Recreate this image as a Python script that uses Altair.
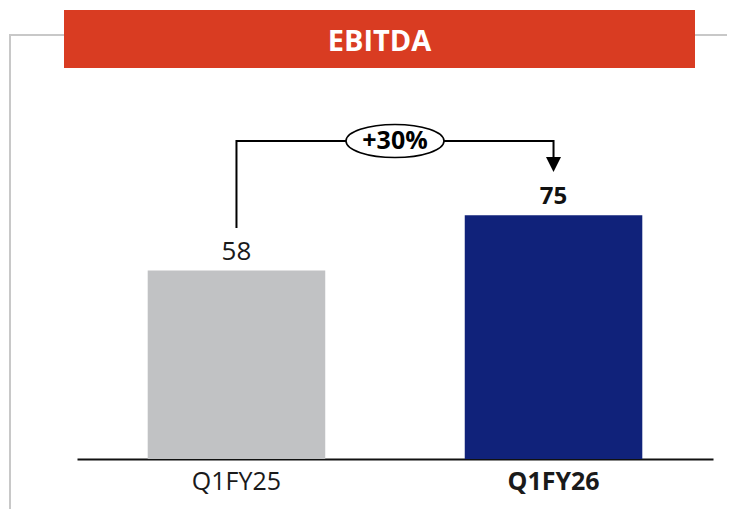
import altair as alt
import pandas as pd

# ---- data ----
categories = ["Q1FY25", "Q1FY26"]
values = [58, 75]
bar_colors = ["#C1C2C4", "#10227A"]
label_weights = ["normal", "bold"]
growth_label = "+30%"
title_text = "EBITDA"

# annotation levels (data units)
bracket_top = 97.85
bracket_left_bottom = 71.1
bracket_right_bottom = 92.9
arrow_level = 90.6

FONT = "Open Sans"

df = pd.DataFrame({"cat": categories, "value": values, "weight": label_weights})

xscale = alt.Scale(domain=categories, paddingInner=0.44, paddingOuter=0.223)
yscale = alt.Scale(domain=[0, 138.15], nice=False, zero=True)

bold_test = f"datum.value == '{categories[1]}'"

x_enc = alt.X(
    "cat:N",
    scale=xscale,
    sort=categories,
    axis=alt.Axis(
        title=None,
        labelFont=FONT,
        labelFontSize=25,
        labelColor="#1a1a1a",
        labelFontWeight={"condition": {"test": bold_test, "value": "bold"}, "value": "normal"},
        labelAngle=0,
        ticks=False,
        domainColor="#111111",
        domainWidth=2,
        labelPadding=10,
        grid=False,
    ),
)

bars = alt.Chart(df).mark_bar().encode(
    x=x_enc,
    y=alt.Y("value:Q", scale=yscale, axis=None),
    color=alt.Color("cat:N", scale=alt.Scale(domain=categories, range=bar_colors), legend=None),
)

lab_normal = alt.Chart(df).transform_filter("datum.weight == 'normal'").mark_text(
    font=FONT, fontSize=26, dy=-10, baseline="alphabetic", color="#1a1a1a"
).encode(
    x=alt.X("cat:N", scale=xscale),
    y=alt.Y("value:Q", scale=yscale),
    text="value:Q",
)
lab_bold = alt.Chart(df).transform_filter("datum.weight == 'bold'").mark_text(
    font=FONT, fontSize=24, fontWeight="bold", dy=-11, baseline="alphabetic", color="#111111"
).encode(
    x=alt.X("cat:N", scale=xscale),
    y=alt.Y("value:Q", scale=yscale),
    text="value:Q",
)

# bracket path
bracket_df = pd.DataFrame({
    "cat": [categories[0], categories[0], categories[1], categories[1]],
    "y": [bracket_left_bottom, bracket_top, bracket_top, bracket_right_bottom],
    "o": [0, 1, 2, 3],
})
bracket = alt.Chart(bracket_df).mark_line(color="black", strokeWidth=2, strokeCap="butt").encode(
    x=alt.X("cat:N", scale=xscale),
    y=alt.Y("y:Q", scale=yscale),
    order="o:Q",
)

arrow_df = pd.DataFrame({"cat": [categories[1]], "y": [arrow_level]})
arrow = alt.Chart(arrow_df).mark_point(
    shape="M -1,-1 L 1,-1 L 0,1 Z", size=225, filled=True, color="black", opacity=1
).encode(
    x=alt.X("cat:N", scale=xscale),
    y=alt.Y("y:Q", scale=yscale),
)

growth_df = pd.DataFrame({"label": [growth_label], "y": [bracket_top]})
ellipse = alt.Chart(growth_df).mark_point(
    shape="M -1,0 A 1,0.337 0 1,1 1,0 A 1,0.337 0 1,1 -1,0 Z",
    size=98 * 98,
    filled=True,
    fill="white",
    stroke="black",
    strokeWidth=1.6,
    opacity=1,
    fillOpacity=1,
).encode(x=alt.value(318), y=alt.Y("y:Q", scale=yscale))
growth_text = alt.Chart(growth_df).mark_text(
    font=FONT, fontSize=25, fontWeight="bold", baseline="middle", color="black"
).encode(x=alt.value(318), y=alt.Y("y:Q", scale=yscale), text="label:N")

# header banner
title_df = pd.DataFrame({"t": [title_text]})
banner = alt.Chart(title_df).mark_rect(color="#D93C22").encode(
    x=alt.value(-13), x2=alt.value(618), y=alt.value(0), y2=alt.value(58)
)
banner_text = alt.Chart(title_df).mark_text(
    font=FONT, fontSize=29, fontWeight="bold", color="white", baseline="alphabetic"
).encode(x=alt.value(302.5), y=alt.value(41), text="t:N")

# light frame
frame_v = alt.Chart(title_df).mark_rule(color="#C8C8C8", strokeWidth=2).encode(
    x=alt.value(-67), y=alt.value(25), y2=alt.value(520)
)
frame_h1 = alt.Chart(title_df).mark_rule(color="#C8C8C8", strokeWidth=2).encode(
    x=alt.value(-68), x2=alt.value(-13), y=alt.value(25)
)
frame_h2 = alt.Chart(title_df).mark_rule(color="#C8C8C8", strokeWidth=2).encode(
    x=alt.value(618), x2=alt.value(670), y=alt.value(25)
)

chart = alt.layer(
    frame_v, frame_h1, frame_h2, banner, banner_text,
    bars, lab_normal, lab_bold, bracket, arrow, ellipse, growth_text,
).properties(
    width=636,
    height=449,
    padding={"left": 69, "top": 2, "right": 14, "bottom": 50},
    autosize=alt.AutoSizeParams(type="none"),
    background="white",
).configure_view(stroke=None)

chart.save("out.html", embed_options={"renderer": "svg", "actions": False})
